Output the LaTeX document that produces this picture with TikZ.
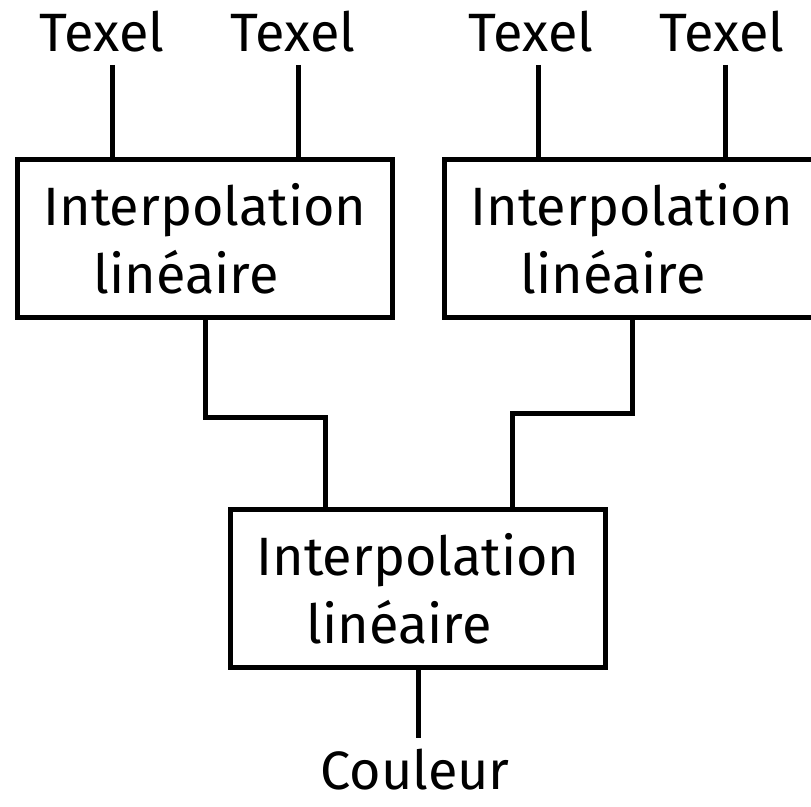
\documentclass[tikz,border=0pt]{standalone}
\usepackage{fontspec}
\setmainfont{Fira Sans}

\tikzset{
  interp/.style={draw, line width=2.5pt, minimum width=187.5pt, minimum height=79pt,
    inner sep=0pt, align=center, font=\fontsize{27}{34}\selectfont},
  lbl/.style={inner sep=0pt, anchor=base, font=\fontsize{27}{34}\selectfont},
  wire/.style={line width=2.5pt},
}

\begin{document}
\begin{tikzpicture}[x=0.5pt, y=-0.5pt]
 \useasboundingbox (0,0) rectangle (811,807);
 \clip (0,0) rectangle (811,807);

 % Texels en entree
 \node[lbl] (tex1) at (102,52) {Texel};
 \node[lbl] (tex2) at (293,52) {Texel};
 \node[lbl] (tex3) at (531,52) {Texel};
 \node[lbl] (tex4) at (722,52) {Texel};
 \coordinate (in1) at (112,65);
 \coordinate (in2) at (298,65);
 \coordinate (in3) at (538,65);
 \coordinate (in4) at (725,65);

 % Interpolations
 \node[interp] (lerpA) at (205,238.5) {Interpolation\\lin\'eaire\hspace*{19pt}};
 \node[interp] (lerpB) at (632,238.5) {Interpolation\\lin\'eaire\hspace*{19pt}};
 \node[interp] (lerpC) at (418,588.5) {Interpolation\\lin\'eaire\hspace*{19pt}};

 % Liaisons
 \draw[wire] (in1) -- (in1 |- lerpA.north);
 \draw[wire] (in2) -- (in2 |- lerpA.north);
 \draw[wire] (in3) -- (in3 |- lerpB.north);
 \draw[wire] (in4) -- (in4 |- lerpB.north);

 \coordinate (jA) at (325,418);
 \coordinate (jB) at (512,414);
 \draw[wire] (lerpA.south) |- (jA) -- (jA |- lerpC.north);
 \draw[wire] (lerpB.south) |- (jB) -- (jB |- lerpC.north);

 % Sortie
 \coordinate (out) at (418,738);
 \draw[wire] (lerpC.south) -- (out);
 \node[lbl] (coul) at (415,790) {Couleur};

\end{tikzpicture}
\end{document}
